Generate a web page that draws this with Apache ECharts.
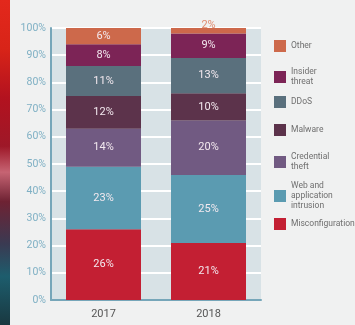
<!DOCTYPE html>
<html><head><meta charset="utf-8">
<script src="https://cdn.jsdelivr.net/npm/echarts@6/dist/echarts.min.js"></script>
<style>html,body{margin:0;padding:0;background:#f0f1f1;}#c{width:355px;height:325px;}</style>
</head><body><div id="c"></div>
<script>
const categories = ['2017', '2018'];
const seriesNames = ['Misconfiguration', 'Web and application intrusion', 'Credential theft', 'Malware', 'DDoS', 'Insider threat', 'Other'];
const misconfiguration = [26, 21];
const webIntrusion = [23, 25];
const credentialTheft = [14, 20];
const malware = [12, 10];
const ddos = [11, 13];
const insiderThreat = [8, 9];
const other = [6, 2];
const yTicks = [0, 10, 20, 30, 40, 50, 60, 70, 80, 90, 100];
const legendLabels = ['Other', 'Insider\nthreat', 'DDoS', 'Malware', 'Credential\ntheft', 'Web and\napplication\nintrusion', 'Misconfiguration'];

const colors = {
  'Misconfiguration': '#c31f33',
  'Web and application intrusion': '#5b9bb1',
  'Credential theft': '#715a82',
  'Malware': '#5c334b',
  'DDoS': '#5a707d',
  'Insider threat': '#7c2456',
  'Other': '#cd694b'
};
const values = [misconfiguration, webIntrusion, credentialTheft, malware, ddos, insiderThreat, other];

const chart = echarts.init(document.getElementById('c'));
const series = seriesNames.map((name, i) => ({
  name: name,
  type: 'bar',
  stack: 'total',
  barWidth: 75,
  itemStyle: { color: colors[name] },
  label: { show: true, position: 'inside', color: '#f3e9ef', fontSize: 11, fontFamily: 'Roboto', formatter: '{c}%' },
  data: values[i].map((v, j) => {
    if (name === 'Other' && v < 4) {
      return { value: v, label: { position: 'top', distance: -3, color: '#e08a6e' } };
    }
    return v;
  })
}));

const legendOrder = ['Other', 'Insider threat', 'DDoS', 'Malware', 'Credential theft', 'Web and application intrusion', 'Misconfiguration'];
const legendTops = [35, 62, 91, 119, 147, 176, 213];
const legends = legendOrder.map((name, i) => ({
  orient: 'vertical',
  left: 269,
  top: legendTops[i],
  itemWidth: 12,
  itemHeight: 12,
  icon: 'rect',
  selectedMode: false,
  data: [name],
  formatter: () => legendLabels[i],
  textStyle: { color: '#6f6f6f', fontSize: 8.5, fontFamily: 'Roboto', lineHeight: 10 },
  itemGap: 4
}));

chart.setOption({
  backgroundColor: '#f0f1f1',
  animation: false,
  graphic: [{
    type: 'rect', left: 0, top: 0, shape: { width: 10, height: 325 },
    style: { fill: new echarts.graphic.LinearGradient(0, 0, 0, 1, [
      { offset: 0, color: '#e3281c' }, { offset: 0.15, color: '#d82418' },
      { offset: 0.3, color: '#b3121f' }, { offset: 0.45, color: '#9e1828' },
      { offset: 0.53, color: '#c66473' }, { offset: 0.62, color: '#6e2233' },
      { offset: 0.75, color: '#3a3a52' }, { offset: 0.85, color: '#1d5d6d' },
      { offset: 1, color: '#193840' }]) }
  }],
  grid: { left: 51, right: 94, top: 28, bottom: 25, show: true, backgroundColor: '#d8e2e6', borderWidth: 0 },
  legend: legends,
  xAxis: {
    type: 'category', data: categories,
    axisLine: { show: true, lineStyle: { color: '#76a6b9', width: 2 } },
    axisTick: { show: false },
    axisLabel: { color: '#555555', fontSize: 11, fontFamily: 'Roboto', margin: 9 }
  },
  yAxis: {
    type: 'value', min: 0, max: 100, interval: 10,
    axisLine: { show: true, lineStyle: { color: '#76a6b9', width: 2 } },
    axisTick: { show: false },
    splitLine: { show: true, lineStyle: { color: '#ffffff', width: 2 } },
    axisLabel: { color: '#7fb0c4', fontSize: 10.5, fontFamily: 'Roboto', margin: 5,
      formatter: v => yTicks.includes(v) ? v + '%' : '' }
  },
  series: series
});
</script></body></html>
